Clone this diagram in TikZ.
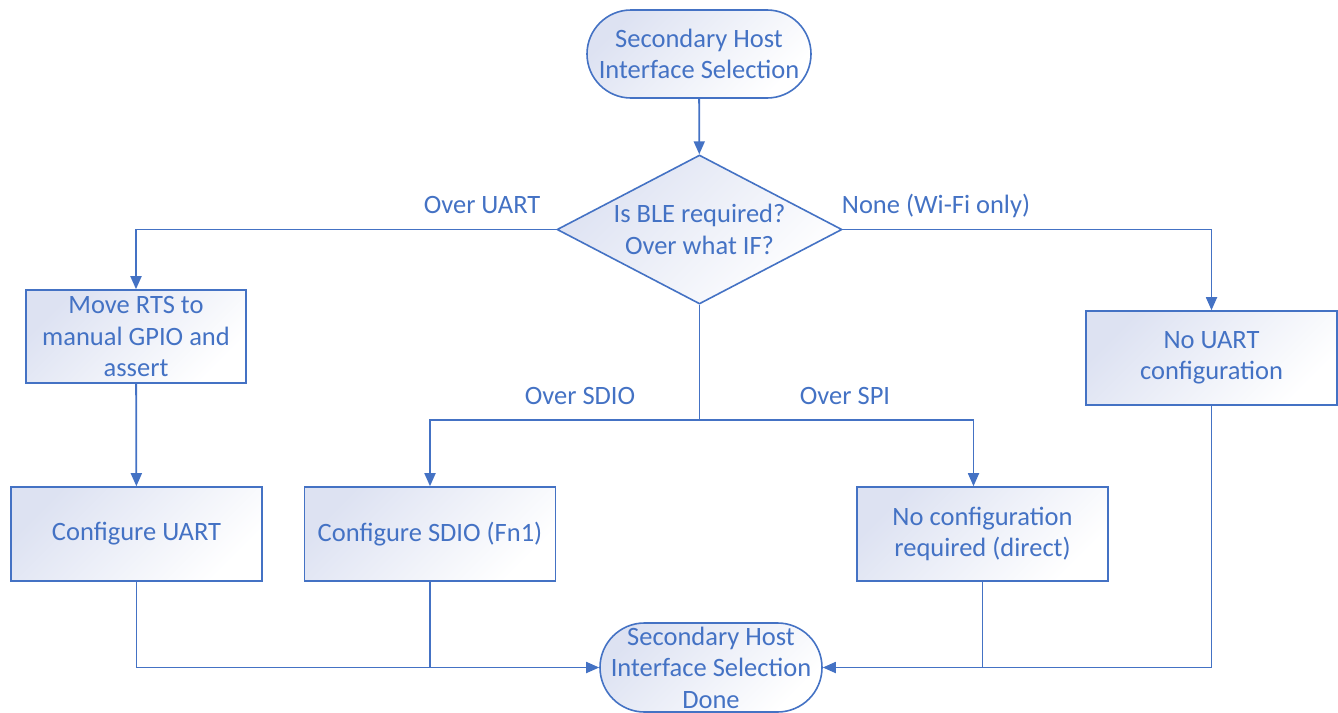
\documentclass[tikz,border=0pt]{standalone}
\usepackage{fontspec}
\setmainfont{Carlito}
\usetikzlibrary{shapes.geometric,arrows.meta}
\definecolor{flowblue}{HTML}{4472C4}
\definecolor{shadeblue}{HTML}{DDE2F2}
\begin{document}
\begin{tikzpicture}[x=1pt,y=1pt,
  txt/.style={text=flowblue, align=center, font=\fontsize{26.5}{31.5}\selectfont, inner sep=0pt},
  shaded/.style={top color=shadeblue, bottom color=white, shading angle=45},
  base/.style={txt, shaded, draw=flowblue, line width=1.6pt},
  proc/.style={base, minimum width=251pt, minimum height=94pt},
  term/.style={base, rounded corners=44pt, minimum width=224pt, minimum height=88pt},
  decision/.style={diamond, shaded, draw=flowblue, line width=1.6pt, inner sep=0pt,
    minimum width=285pt, minimum height=149pt},
  conn/.style={draw=flowblue, line width=1.8pt},
  arr/.style={conn, -{Triangle[length=13pt,width=11pt]}},
  lbl/.style={txt}
]
\useasboundingbox (0,0) rectangle (1338,-712);
\clip (0,0) rectangle (1338,-712);

% terminators
\node[term] (start) at (699,-54) {Secondary Host\\Interface Selection};
\node[term, minimum width=222pt, minimum height=89pt, rounded corners=44.5pt]
  (done) at (711,-667.5) {Secondary Host\\Interface Selection\\Done};

% decision
\node[decision] (dec) at (699.5,-229.5) {};
\node[txt] (q) at (dec) {Is BLE required?\\Over what IF?};

% process boxes
\node[proc, minimum width=220pt, minimum height=93pt] (rts) at (136,-336.5)
  {Move RTS to\\manual GPIO and\\assert};
\node[proc] (uart) at (136.5,-534) {Configure UART};
\node[proc] (sdio) at (430,-534) {Configure SDIO (Fn1)};
\node[proc] (spi) at (982.5,-534) {No configuration\\required (direct)};
\node[proc] (none) at (1211.5,-358) {No UART\\configuration};

% branch labels
\node[lbl] (lu) at (482,-205) {Over UART};
\node[lbl] (ln) at (936,-206) {None (Wi-Fi only)};
\node[lbl] (ls) at (580,-396) {Over SDIO};
\node[lbl] (lp) at (845,-396) {Over SPI};

% connectors
\draw[arr] (start) -- (dec);
\draw[arr] (dec.west) -| (rts.north);
\draw[arr] (dec.east) -| (none.north);
\draw[arr] (rts) -- (uart);
\coordinate (split) at (699.5,-420);
\draw[conn] (dec.south) -- (split);
\draw[arr] (split) -| (sdio.north);
\draw[arr] (split) -| ([xshift=-9pt]spi.north);
\draw[arr] (uart.south) |- (done.west);
\draw[conn] (sdio.south) -- (sdio.south |- done.west);
\draw[conn] (spi.south) -- (spi.south |- done.east);
\draw[arr] (none.south) |- (done.east);
\end{tikzpicture}
\end{document}
